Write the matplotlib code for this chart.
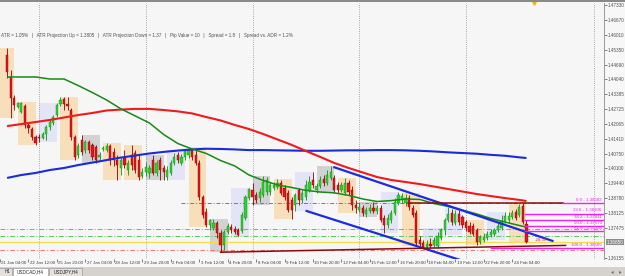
import matplotlib
matplotlib.use('Agg')
import matplotlib.pyplot as plt
from matplotlib.patches import Rectangle
from matplotlib.transforms import blended_transform_factory

# USDCAD H4, bar 0 = 22 Jan 12:00, one bar per 4 hours (weekends skipped)
FIRST_BAR = -6

opens = [
    1.4511, 1.4414, 1.4321,
    1.4281, 1.4259, 1.4286, 1.4202, 1.4184, 1.4149,
    1.4149, 1.4144, 1.4162, 1.4193, 1.4211, 1.4246,
    1.4295, 1.4317, 1.4295, 1.4268, 1.4149, 1.4069,
    1.4136, 1.4091, 1.4127, 1.4114, 1.4105, 1.4061,
    1.4096, 1.4091, 1.4109, 1.4083, 1.4047, 1.4012,
    1.4056, 1.4003, 1.4069, 1.4078, 1.4047, 1.3977,
    1.3994, 1.3990, 1.4047, 1.3990, 1.4047, 1.4012,
    1.3972, 1.3990, 1.4034, 1.4069, 1.4034, 1.4061,
    1.4069, 1.4091, 1.4069, 1.4034, 1.3884, 1.3818,
    1.3760, 1.3747, 1.3769, 1.3725, 1.3672, 1.3729,
    1.3751, 1.3743, 1.3738, 1.3734, 1.3791, 1.3879,
    1.3915, 1.3893, 1.3879, 1.3893, 1.3906, 1.3906,
    1.3924, 1.3928, 1.3946, 1.3924, 1.3902, 1.3871,
    1.3849, 1.3915, 1.3871, 1.3884, 1.3915, 1.3959,
    1.3915, 1.3932, 1.3963, 1.3946, 1.3968, 1.3968,
    1.3937, 1.3915, 1.3902, 1.3946, 1.3915, 1.3849,
    1.3826, 1.3835, 1.3809, 1.3822, 1.3835, 1.3822,
    1.3835, 1.3791, 1.3760, 1.3782, 1.3813, 1.3857,
    1.3871, 1.3857, 1.3879, 1.3835, 1.3813, 1.3694,
    1.3681, 1.3663, 1.3676, 1.3672, 1.3667, 1.3703,
    1.3738, 1.3782, 1.3813, 1.3769, 1.3809, 1.3796,
    1.3773, 1.3756, 1.3756, 1.3738, 1.3685, 1.3694,
    1.3703, 1.3716, 1.3720, 1.3738, 1.3747, 1.3778,
    1.3782, 1.3796, 1.3818, 1.3804, 1.3844, 1.3765,
]
highs = [
    1.4542, 1.4445, 1.4334,
    1.4303, 1.4303, 1.4295, 1.4215, 1.4193, 1.4158,
    1.4162, 1.4171, 1.4202, 1.4224, 1.4246, 1.4299,
    1.4326, 1.4326, 1.4326, 1.4277, 1.4158, 1.4122,
    1.4158, 1.4136, 1.4136, 1.4122, 1.4114, 1.4083,
    1.4109, 1.4122, 1.4118, 1.4100, 1.4069, 1.4056,
    1.4091, 1.4047, 1.4114, 1.4091, 1.4069, 1.4012,
    1.4038, 1.4025, 1.4069, 1.4047, 1.4061, 1.4025,
    1.4021, 1.4047, 1.4078, 1.4083, 1.4074, 1.4091,
    1.4105, 1.4100, 1.4091, 1.4047, 1.3893, 1.3835,
    1.3787, 1.3787, 1.3778, 1.3738, 1.3738, 1.3769,
    1.3765, 1.3756, 1.3747, 1.3818, 1.3893, 1.3924,
    1.3946, 1.3906, 1.3924, 1.3977, 1.3972, 1.3950,
    1.3950, 1.3963, 1.3959, 1.3937, 1.3915, 1.3884,
    1.3902, 1.3924, 1.3915, 1.3959, 1.3977, 1.3994,
    1.3946, 1.3977, 1.3981, 1.4003, 1.4021, 1.3981,
    1.3950, 1.3950, 1.3968, 1.3959, 1.3932, 1.3871,
    1.3857, 1.3849, 1.3840, 1.3853, 1.3862, 1.3849,
    1.3849, 1.3804, 1.3809, 1.3826, 1.3879, 1.3906,
    1.3902, 1.3897, 1.3893, 1.3849, 1.3826, 1.3712,
    1.3694, 1.3694, 1.3703, 1.3707, 1.3729, 1.3747,
    1.3791, 1.3840, 1.3831, 1.3826, 1.3826, 1.3804,
    1.3782, 1.3773, 1.3769, 1.3747, 1.3716, 1.3725,
    1.3734, 1.3743, 1.3747, 1.3773, 1.3804, 1.3818,
    1.3818, 1.3826, 1.3831, 1.3853, 1.3857, 1.3782,
]
lows = [
    1.4409, 1.4233, 1.4268,
    1.4277, 1.4255, 1.4189, 1.4167, 1.4136, 1.4114,
    1.4127, 1.4140, 1.4136, 1.4180, 1.4202, 1.4237,
    1.4286, 1.4268, 1.4268, 1.4136, 1.4047, 1.4056,
    1.4069, 1.4078, 1.4078, 1.4047, 1.4034, 1.4047,
    1.4087, 1.4083, 1.4025, 1.4021, 1.3959, 1.3981,
    1.4012, 1.3981, 1.4003, 1.3990, 1.3959, 1.3968,
    1.3977, 1.3968, 1.3981, 1.3977, 1.3959, 1.3959,
    1.3959, 1.3981, 1.4025, 1.4034, 1.4025, 1.4047,
    1.4056, 1.4047, 1.4025, 1.3871, 1.3791, 1.3751,
    1.3738, 1.3738, 1.3703, 1.3641, 1.3650, 1.3720,
    1.3725, 1.3720, 1.3712, 1.3725, 1.3782, 1.3871,
    1.3849, 1.3857, 1.3862, 1.3884, 1.3893, 1.3893,
    1.3915, 1.3919, 1.3893, 1.3871, 1.3818, 1.3787,
    1.3822, 1.3849, 1.3857, 1.3871, 1.3906, 1.3924,
    1.3902, 1.3924, 1.3932, 1.3937, 1.3959, 1.3902,
    1.3902, 1.3906, 1.3893, 1.3893, 1.3826, 1.3813,
    1.3818, 1.3800, 1.3796, 1.3813, 1.3813, 1.3809,
    1.3773, 1.3725, 1.3747, 1.3769, 1.3804, 1.3849,
    1.3857, 1.3844, 1.3826, 1.3796, 1.3672, 1.3667,
    1.3658, 1.3658, 1.3658, 1.3663, 1.3658, 1.3694,
    1.3716, 1.3773, 1.3760, 1.3760, 1.3760, 1.3747,
    1.3734, 1.3720, 1.3712, 1.3672, 1.3676, 1.3685,
    1.3694, 1.3707, 1.3712, 1.3729, 1.3738, 1.3769,
    1.3769, 1.3787, 1.3782, 1.3796, 1.3765, 1.3681,
]
closes = [
    1.4436, 1.4321, 1.4290,
    1.4299, 1.4299, 1.4202, 1.4189, 1.4149, 1.4122,
    1.4144, 1.4162, 1.4193, 1.4215, 1.4237, 1.4290,
    1.4312, 1.4295, 1.4286, 1.4149, 1.4061, 1.4109,
    1.4083, 1.4127, 1.4091, 1.4061, 1.4047, 1.4069,
    1.4100, 1.4109, 1.4047, 1.4047, 1.4025, 1.4047,
    1.4025, 1.4034, 1.4025, 1.4003, 1.3972, 1.3994,
    1.4016, 1.4012, 1.3990, 1.4034, 1.4003, 1.3994,
    1.4003, 1.4034, 1.4061, 1.4047, 1.4061, 1.4087,
    1.4091, 1.4061, 1.4034, 1.3884, 1.3804, 1.3760,
    1.3782, 1.3769, 1.3725, 1.3672, 1.3729, 1.3756,
    1.3738, 1.3729, 1.3716, 1.3804, 1.3884, 1.3919,
    1.3884, 1.3871, 1.3906, 1.3950, 1.3959, 1.3937,
    1.3937, 1.3946, 1.3902, 1.3884, 1.3826, 1.3826,
    1.3893, 1.3871, 1.3902, 1.3937, 1.3950, 1.3937,
    1.3932, 1.3959, 1.3946, 1.3981, 1.3994, 1.3915,
    1.3915, 1.3937, 1.3946, 1.3906, 1.3849, 1.3835,
    1.3840, 1.3813, 1.3826, 1.3835, 1.3822, 1.3835,
    1.3782, 1.3760, 1.3791, 1.3813, 1.3862, 1.3893,
    1.3888, 1.3879, 1.3840, 1.3804, 1.3681, 1.3676,
    1.3663, 1.3676, 1.3667, 1.3694, 1.3712, 1.3738,
    1.3782, 1.3809, 1.3773, 1.3809, 1.3773, 1.3760,
    1.3747, 1.3729, 1.3720, 1.3685, 1.3707, 1.3707,
    1.3720, 1.3729, 1.3738, 1.3756, 1.3778, 1.3800,
    1.3800, 1.3813, 1.3791, 1.3840, 1.3773, 1.3685,
]

# daily range boxes: first bar of each day and its shade
day_first_bars = [-9, -3, 3, 9, 15, 21, 27, 33, 39, 45, 51, 57, 63,
                  69, 75, 81, 87, 93, 99, 105, 111, 117, 123, 129, 135]
day_kinds = ['down', 'down', 'up', 'down', 'flat', 'down', 'down', 'flat',
             'up', 'down', 'flat', 'up', 'flat', 'down', 'up', 'flat',
             'down', 'flat', 'up', 'down', 'up', 'up', 'down', 'up', 'down']

# moving averages
ma_bars = [-6, -2, 2, 6, 10, 14, 18, 22, 26, 30, 34, 38, 42, 46, 50, 54, 58,
           62, 66, 70, 74, 78, 82, 86, 90, 94, 98, 102, 106, 110, 114, 118,
           122, 126, 130, 134, 138, 140]
ma_green = [1.4414, 1.4414, 1.4414, 1.4405, 1.4405, 1.4376, 1.4345, 1.4312,
            1.4273, 1.4242, 1.4211, 1.4160, 1.4120, 1.4096, 1.4076, 1.4045,
            1.4021, 1.3981, 1.3957, 1.3937, 1.3926, 1.3913, 1.3906, 1.3902,
            1.3891, 1.3875, 1.3864, 1.3868, 1.3875, 1.3873, 1.3855, 1.3842,
            1.3826, 1.3809, 1.3789, 1.3773, 1.3758, 1.3751]
ma_red = [1.4197, 1.4206, 1.4215, 1.4224, 1.4235, 1.4246, 1.4255, 1.4266,
          1.4270, 1.4273, 1.4273, 1.4268, 1.4262, 1.4253, 1.4237, 1.4222,
          1.4202, 1.4184, 1.4162, 1.4138, 1.4114, 1.4087, 1.4061, 1.4034,
          1.4012, 1.3992, 1.3972, 1.3959, 1.3950, 1.3941, 1.3930, 1.3919,
          1.3908, 1.3897, 1.3888, 1.3879, 1.3871, 1.3866]
ma_blue = [1.3968, 1.3981, 1.3990, 1.4003, 1.4012, 1.4025, 1.4036, 1.4047,
           1.4058, 1.4067, 1.4076, 1.4083, 1.4089, 1.4094, 1.4097, 1.4096,
           1.4094, 1.4091, 1.4091, 1.4090, 1.4089, 1.4088, 1.4088, 1.4089,
           1.4090, 1.4090, 1.4091, 1.4091, 1.4090, 1.4088, 1.4085, 1.4081,
           1.4078, 1.4075, 1.4070, 1.4066, 1.4059, 1.4056]

# drawn objects
channel_upper = ([86, 147.3], [1.4015, 1.3690])
channel_lower = ([78.2, 122.5], [1.3822, 1.3600])
support_line = ([54, 151], [1.3640, 1.3670])
range_top = ([106.6, 150.2], [1.3857, 1.3857])
fib_levels = [1.38582, 1.38106, 1.37811, 1.37573, 1.37335, 1.36565]
fib_names = ['0.0', '23.6', '38.2', '50.0', '61.8', '100.0']
fib_starts = [150.2, 139.5, 139.5, 139.5, 139.5, 130.0]
green_levels = [1.3743, 1.3712]
yellow_level = 1.3683
pink_level = 1.3650
red_level = 1.3859
range_note = (142.3, 1.3683, '-28.30')
marker_bar = 142.1

week_separators = [3, 33, 63, 93, 123, 159]
x_tick_bars = [-8, 0, 8, 16, 24, 32, 40, 48, 56, 64, 72, 80, 88, 96, 104,
               112, 120, 128, 136]
x_tick_labels = ['21 Jan 04:00', '22 Jan 12:00', '25 Jan 20:00', '27 Jan 04:00',
                 '28 Jan 12:00', '29 Jan 20:00', '2 Feb 04:00', '3 Feb 12:00',
                 '4 Feb 20:00', '8 Feb 04:00', '9 Feb 12:00', '10 Feb 20:00',
                 '12 Feb 04:00', '15 Feb 12:00', '16 Feb 20:00', '18 Feb 04:00',
                 '19 Feb 12:00', '22 Feb 20:00', '24 Feb 04:00']
y_ticks = [1.47330, 1.46670, 1.46010, 1.45350, 1.44690, 1.44040, 1.43385,
           1.42725, 1.42065, 1.41410, 1.40750, 1.40100, 1.39440, 1.38780,
           1.38125, 1.37475, 1.36155]
y_tick_labels = ['1.47330', '1.46670', '1.46010', '1.45350', '1.44690',
                 '1.44040', '1.43385', '1.42725', '1.42065', '1.41410',
                 '1.40750', '1.40100', '1.39440', '1.38780', '1.38125',
                 '1.37475', '1.36155']
info_text = ('ATR = 1.05%   |   ATR Projection Up = 1.3805   |   '
             'ATR Projection Down = 1.37   |   Pip Value = 10   |   '
             'Spread = 1.8   |   Spread vs. ADR = 1.2%')
tabs = ['H1', 'USDCAD,H4', 'USDJPY,H4']

BOX_COLORS = {'down': '#F8DFBC', 'up': '#E4E4F7', 'flat': '#D2D2D4'}
FONT = ['Liberation Sans', 'DejaVu Sans']
Y_LO, Y_HI = 1.36100, 1.47407

W, H = 625, 276
fig = plt.figure(figsize=(W / 100, H / 100), dpi=100)
fig.patch.set_facecolor('#F7F7F7')

# chart area: x 0..604 px, y 3..259 px
ax = fig.add_axes([0, (H - 259) / H, 604 / W, 256 / H])
ax.set_facecolor('#F6F6F6')
ax.set_xlim(-5.83, 161.8)
ax.set_ylim(Y_LO, Y_HI)

n = len(closes)
bars = list(range(FIRST_BAR, FIRST_BAR + n))

# daily boxes
for first, kind in zip(day_first_bars, day_kinds):
    idx = [i for i, b in enumerate(bars) if first <= b <= first + 5]
    if not idx:
        continue
    hi = max(highs[i] for i in idx)
    lo = min(lows[i] for i in idx)
    ax.add_patch(Rectangle((first, lo), 5, hi - lo, facecolor=BOX_COLORS[kind],
                           edgecolor='none', zorder=1))

for b in week_separators:
    ax.axvline(b, color='#8C8C8C', lw=0.6, ls=(0, (1, 1.6)), zorder=2)

# horizontal levels
for lvl in green_levels:
    ax.axhline(lvl, color='#55C855', lw=0.7, ls=(0, (5, 2, 1, 2)), zorder=2)
ax.axhline(yellow_level, color='#F2DC48', lw=0.9, zorder=2)
ax.axhline(pink_level, color='#F07A7A', lw=0.8, ls=(0, (4, 2, 1, 2)), zorder=2)
ax.axhline(red_level, xmin=0.3, color='#D85050', lw=0.7, ls=(0, (4, 2, 1, 2)), zorder=2)

# candles
up = [c >= o for o, c in zip(opens, closes)]
wick_col = ['#0F8F0F' if u else '#8E0000' for u in up]
ax.vlines(bars, lows, highs, colors=wick_col, lw=0.6, zorder=4)
ax.bar(bars, [max(abs(c - o), 0.00008) for o, c in zip(opens, closes)],
       bottom=[min(o, c) for o, c in zip(opens, closes)], width=0.62,
       color=['#2FD02F' if u else '#E01818' for u in up],
       edgecolor=wick_col, linewidth=0.3, zorder=5)

# moving averages
ax.plot(ma_bars, ma_blue, color='#1A2BD8', lw=1.5, zorder=6, solid_capstyle='butt')
ax.plot(ma_bars, ma_red, color='#F01A1A', lw=1.5, zorder=6, solid_capstyle='butt')
ax.plot(ma_bars, ma_green, color='#168A16', lw=1.1, zorder=6, solid_capstyle='butt')

# trend objects
ax.plot(*channel_upper, color='#1A2BE0', lw=1.6, zorder=7)
ax.plot(*channel_lower, color='#1A2BE0', lw=1.6, zorder=7)
ax.plot(*support_line, color='#8B0A0A', lw=1.1, zorder=7)
ax.plot(*range_top, color='#8B0A0A', lw=1.1, zorder=7)

# fibonacci levels
for name, lvl, start in zip(fib_names, fib_levels, fib_starts):
    ax.plot([start, 161.8], [lvl, lvl], color='#F020F0', lw=1.0, zorder=7)
    ax.text(161.2, lvl + 0.0005, f'{name} - {lvl:.5f}', color='#F020F0',
            fontsize=3.2, family=FONT, ha='right', va='bottom', zorder=8)
ax.text(range_note[0], range_note[1], range_note[2], color='#E0207A',
        fontsize=3.2, family=FONT, ha='left', va='bottom', zorder=8)

# small marker at the top edge
ax.plot([marker_bar], [Y_HI], marker='v', ms=2.5, color='#F2B400',
        clip_on=False, zorder=9)

# top info line
ax.text(1 / 604, (259 - 35) / 256, info_text, transform=ax.transAxes,
        fontsize=3.3, family=FONT, color='#505050', ha='left', va='center')

# axes decoration
for side in ['left', 'top', 'bottom']:
    ax.spines[side].set_visible(False)
ax.spines['right'].set_color('#9A9A9A')
ax.spines['right'].set_linewidth(0.7)

ax.yaxis.tick_right()
ax.set_yticks(y_ticks)
ax.set_yticklabels(y_tick_labels)
ax.tick_params(axis='y', labelsize=3.3, length=2, width=0.5, pad=0.8,
               colors='#505050')
for lab in ax.get_yticklabels():
    lab.set_family(FONT)

ax.set_xticks(x_tick_bars)
ax.set_xticklabels([])
ax.tick_params(axis='x', length=2, width=0.5, colors='#505050')
trans = blended_transform_factory(ax.transData, ax.transAxes)
for b, lab in zip(x_tick_bars, x_tick_labels):
    ax.text(b + 0.4, -4.5 / 256, lab, transform=trans, fontsize=3.2,
            family=FONT, color='#404040', ha='left', va='center', clip_on=False)

# current price tag
ax.text(1.004, (closes[-1] - Y_LO) / (Y_HI - Y_LO), f'{closes[-1]:.5f}',
        transform=ax.transAxes, fontsize=3.3, family=FONT, color='white',
        ha='left', va='center',
        bbox=dict(boxstyle='square,pad=0.15', facecolor='#8C8C8C', edgecolor='none'))

# window chrome: top border and tab bar
fig.add_artist(Rectangle((0, (H - 2) / H), 1, 2 / H, transform=fig.transFigure,
                         facecolor='#8A8A8A', edgecolor='none'))
tab_ax = fig.add_axes([0, 0, 1, 9 / H])
tab_ax.set_xlim(0, W)
tab_ax.set_ylim(0, 9)
tab_ax.axis('off')
tab_ax.add_patch(Rectangle((0, 0), W, 9, facecolor='#D6D3CE', edgecolor='none'))
tab_x = [(-20, 12), (13, 48), (49, 82)]
for (x0, x1), name in zip(tab_x, tabs):
    active = name == 'USDCAD,H4'
    tab_ax.add_patch(Rectangle((x0, 0), x1 - x0, 8.5,
                               facecolor='white' if active else '#E4E1DC',
                               edgecolor='#8A8A8A', lw=0.4))
    tab_ax.text(x1 - 2 if x0 < 0 else (x0 + x1) / 2, 4.2, name, fontsize=3.3,
                family=FONT, ha='right' if x0 < 0 else 'center', va='center',
                color='#202020')
tab_ax.text(612, 4.5, '\u25c2', fontsize=4, color='#707070', ha='center', va='center')
tab_ax.text(620, 4.5, '\u25b8', fontsize=4, color='#707070', ha='center', va='center')

fig.savefig('out.png', dpi=100, facecolor=fig.get_facecolor())
